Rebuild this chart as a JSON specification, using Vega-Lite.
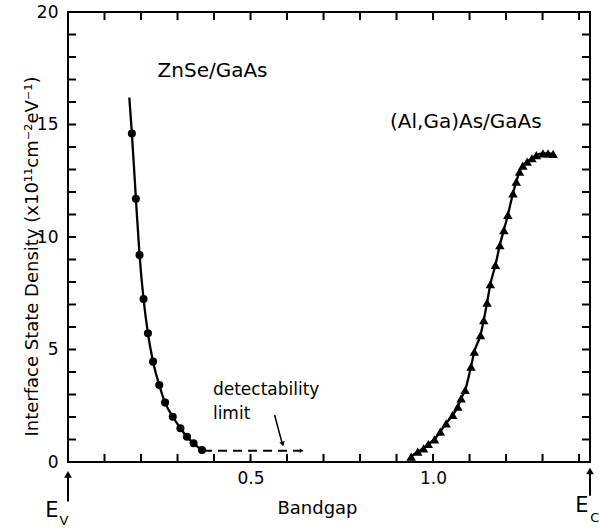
{
  "$schema": "https://vega.github.io/schema/vega-lite/v6.json",
  "width": 522,
  "height": 450,
  "autosize": {"type": "none"},
  "padding": {"left": 68, "top": 12, "right": 9, "bottom": 67},
  "background": "white",
  "config": {
    "font": "DejaVu Sans",
    "view": {"stroke": "black", "strokeWidth": 2},
    "axis": {"domain": false, "grid": false, "labelColor": "black", "titleColor": "black", "labelFont": "DejaVu Sans", "titleFont": "DejaVu Sans"}
  },
  "datasets": {
    "zn": [
      {"x": 0.168, "y": 16.2, "marker": false},
      {"x": 0.175, "y": 14.6, "marker": true},
      {"x": 0.186, "y": 11.7, "marker": true},
      {"x": 0.196, "y": 9.2, "marker": true},
      {"x": 0.207, "y": 7.24, "marker": true},
      {"x": 0.219, "y": 5.72, "marker": true},
      {"x": 0.233, "y": 4.46, "marker": true},
      {"x": 0.25, "y": 3.42, "marker": true},
      {"x": 0.266, "y": 2.64, "marker": true},
      {"x": 0.287, "y": 2.01, "marker": true},
      {"x": 0.308, "y": 1.5, "marker": true},
      {"x": 0.326, "y": 1.12, "marker": true},
      {"x": 0.344, "y": 0.83, "marker": true},
      {"x": 0.367, "y": 0.53, "marker": true}
    ],
    "al": [
      {"x": 0.94, "y": 0.24},
      {"x": 0.958, "y": 0.46},
      {"x": 0.974, "y": 0.61},
      {"x": 0.987, "y": 0.8},
      {"x": 1.004, "y": 1.01},
      {"x": 1.02, "y": 1.35},
      {"x": 1.036, "y": 1.72},
      {"x": 1.054, "y": 2.09},
      {"x": 1.068, "y": 2.46},
      {"x": 1.077, "y": 2.83},
      {"x": 1.088, "y": 3.2},
      {"x": 1.104, "y": 4.24},
      {"x": 1.113, "y": 4.9},
      {"x": 1.13, "y": 5.64},
      {"x": 1.139, "y": 6.31},
      {"x": 1.148, "y": 7.08},
      {"x": 1.157, "y": 7.9},
      {"x": 1.171, "y": 8.76},
      {"x": 1.183, "y": 9.64},
      {"x": 1.194, "y": 10.31},
      {"x": 1.205, "y": 10.98},
      {"x": 1.219, "y": 11.94},
      {"x": 1.228, "y": 12.46},
      {"x": 1.237, "y": 12.9},
      {"x": 1.246, "y": 13.17},
      {"x": 1.258, "y": 13.35},
      {"x": 1.271, "y": 13.5},
      {"x": 1.283, "y": 13.64},
      {"x": 1.301, "y": 13.72},
      {"x": 1.315, "y": 13.72},
      {"x": 1.329, "y": 13.69}
    ],
    "xticks": [
      {"v": 0.1}, {"v": 0.2}, {"v": 0.3}, {"v": 0.4}, {"v": 0.5}, {"v": 0.6}, {"v": 0.7},
      {"v": 0.8}, {"v": 0.9}, {"v": 1.0}, {"v": 1.1}, {"v": 1.2}, {"v": 1.3}, {"v": 1.4}
    ],
    "yticks": [
      {"v": 1}, {"v": 2}, {"v": 3}, {"v": 4}, {"v": 5}, {"v": 6}, {"v": 7}, {"v": 8}, {"v": 9}, {"v": 10},
      {"v": 11}, {"v": 12}, {"v": 13}, {"v": 14}, {"v": 15}, {"v": 16}, {"v": 17}, {"v": 18}, {"v": 19}
    ],
    "labels": [
      {"x": 0.396, "y": 17.1, "text": "ZnSe/GaAs"},
      {"x": 1.09, "y": 14.84, "text": "(Al,Ga)As/GaAs"}
    ],
    "notes": [
      {"x": 0.397, "y": 2.98, "text": "detectability"},
      {"x": 0.397, "y": 1.9, "text": "limit"}
    ],
    "edges": [
      {"x": 0, "y": -0.55, "y2": -1.75, "ex": -0.044, "ey": -2.45, "sx": -0.011, "sy": -2.8, "main": "E", "sub": "V"},
      {"x": 1.43, "y": -0.4, "y2": -1.5, "ex": 1.408, "ey": -2.2, "sx": 1.443, "sy": -2.65, "main": "E", "sub": "C"}
    ]
  },
  "layer": [
    {
      "data": {"name": "zn"},
      "mark": {"type": "line", "color": "black", "strokeWidth": 2.3, "interpolate": "monotone"},
      "encoding": {
        "x": {"field": "x", "type": "quantitative", "scale": {"domain": [0, 1.43], "nice": false, "zero": false},
          "axis": {"orient": "bottom", "values": [0.5, 1.0], "ticks": false, "labelPadding": 8, "labelFontSize": 17, "format": ".1f", "title": "Bandgap", "titleFontSize": 18, "titleFontWeight": "normal", "titleX": 249, "titleY": 51, "titleBaseline": "alphabetic"}},
        "y": {"field": "y", "type": "quantitative", "scale": {"domain": [0, 20], "nice": false, "zero": false},
          "axis": {"orient": "left", "values": [0, 5, 10, 15, 20], "ticks": false, "labelPadding": 10, "labelFontSize": 17, "title": "Interface State Density (x10¹¹cm⁻²eV⁻¹)", "titleFontSize": 18, "titleFontWeight": "normal", "titleX": -36, "titleY": 244, "titleAngle": 270, "titleBaseline": "middle", "titleAlign": "center"}}
      }
    },
    {
      "data": {"name": "al"},
      "mark": {"type": "line", "color": "black", "strokeWidth": 2.3, "interpolate": "monotone"},
      "encoding": {
        "x": {"field": "x", "type": "quantitative"},
        "y": {"field": "y", "type": "quantitative"}
      }
    },
    {
      "data": {"name": "xticks"},
      "mark": {"type": "rule", "color": "black", "strokeWidth": 2},
      "encoding": {
        "x": {"field": "v", "type": "quantitative"},
        "y": {"datum": 0, "type": "quantitative"},
        "y2": {"datum": 0.36}
      }
    },
    {
      "data": {"name": "xticks"},
      "mark": {"type": "rule", "color": "black", "strokeWidth": 2},
      "encoding": {
        "x": {"field": "v", "type": "quantitative"},
        "y": {"datum": 20, "type": "quantitative"},
        "y2": {"datum": 19.64}
      }
    },
    {
      "data": {"name": "yticks"},
      "mark": {"type": "rule", "color": "black", "strokeWidth": 2},
      "encoding": {
        "y": {"field": "v", "type": "quantitative"},
        "x": {"datum": 0, "type": "quantitative"},
        "x2": {"datum": 0.022}
      }
    },
    {
      "data": {"name": "yticks"},
      "mark": {"type": "rule", "color": "black", "strokeWidth": 2},
      "encoding": {
        "y": {"field": "v", "type": "quantitative"},
        "x": {"datum": 1.43, "type": "quantitative"},
        "x2": {"datum": 1.408}
      }
    },
    {
      "data": {"name": "zn"},
      "transform": [{"filter": "datum.marker"}],
      "mark": {"type": "point", "shape": "circle", "filled": true, "color": "black", "size": 65, "opacity": 1},
      "encoding": {
        "x": {"field": "x", "type": "quantitative"},
        "y": {"field": "y", "type": "quantitative"}
      }
    },
    {
      "data": {"name": "al"},
      "mark": {"type": "point", "shape": "triangle-up", "filled": true, "color": "black", "size": 90, "opacity": 1},
      "encoding": {
        "x": {"field": "x", "type": "quantitative"},
        "y": {"field": "y", "type": "quantitative"}
      }
    },
    {
      "data": {"values": [{"x": 0.37, "x2": 0.635, "y": 0.5}]},
      "mark": {"type": "rule", "color": "black", "strokeWidth": 2, "strokeDash": [9, 6]},
      "encoding": {
        "x": {"field": "x", "type": "quantitative"},
        "x2": {"field": "x2"},
        "y": {"field": "y", "type": "quantitative"}
      }
    },
    {
      "data": {"values": [{"x": 0.64, "y": 0.5}]},
      "mark": {"type": "point", "shape": "triangle-right", "filled": true, "color": "black", "size": 20, "opacity": 1},
      "encoding": {
        "x": {"field": "x", "type": "quantitative"},
        "y": {"field": "y", "type": "quantitative"}
      }
    },
    {
      "data": {"values": [{"x": 0.566, "y": 2.09, "x2": 0.588, "y2": 0.75}]},
      "mark": {"type": "rule", "color": "black", "strokeWidth": 1.5},
      "encoding": {
        "x": {"field": "x", "type": "quantitative"},
        "x2": {"field": "x2"},
        "y": {"field": "y", "type": "quantitative"},
        "y2": {"field": "y2"}
      }
    },
    {
      "data": {"values": [{"x": 0.588, "y": 0.8}]},
      "mark": {"type": "point", "shape": "triangle-down", "filled": true, "color": "black", "size": 30, "angle": 345, "opacity": 1},
      "encoding": {
        "x": {"field": "x", "type": "quantitative"},
        "y": {"field": "y", "type": "quantitative"}
      }
    },
    {
      "data": {"name": "labels"},
      "mark": {"type": "text", "fontSize": 20, "align": "center", "baseline": "alphabetic", "color": "black"},
      "encoding": {
        "x": {"field": "x", "type": "quantitative"},
        "y": {"field": "y", "type": "quantitative"},
        "text": {"field": "text"}
      }
    },
    {
      "data": {"name": "notes"},
      "mark": {"type": "text", "fontSize": 17, "align": "left", "baseline": "alphabetic", "color": "black"},
      "encoding": {
        "x": {"field": "x", "type": "quantitative"},
        "y": {"field": "y", "type": "quantitative"},
        "text": {"field": "text"}
      }
    },
    {
      "data": {"name": "edges"},
      "mark": {"type": "rule", "color": "black", "strokeWidth": 2},
      "encoding": {
        "x": {"field": "x", "type": "quantitative"},
        "y": {"field": "y", "type": "quantitative"},
        "y2": {"field": "y2"}
      }
    },
    {
      "data": {"name": "edges"},
      "mark": {"type": "point", "shape": "triangle-up", "filled": true, "color": "black", "size": 60, "opacity": 1},
      "encoding": {
        "x": {"field": "x", "type": "quantitative"},
        "y": {"field": "y", "type": "quantitative"}
      }
    },
    {
      "data": {"name": "edges"},
      "mark": {"type": "text", "fontSize": 21, "align": "center", "baseline": "alphabetic", "color": "black"},
      "encoding": {
        "x": {"field": "ex", "type": "quantitative"},
        "y": {"field": "ey", "type": "quantitative"},
        "text": {"field": "main"}
      }
    },
    {
      "data": {"name": "edges"},
      "mark": {"type": "text", "fontSize": 13, "align": "center", "baseline": "alphabetic", "color": "black"},
      "encoding": {
        "x": {"field": "sx", "type": "quantitative"},
        "y": {"field": "sy", "type": "quantitative"},
        "text": {"field": "sub"}
      }
    }
  ]
}
